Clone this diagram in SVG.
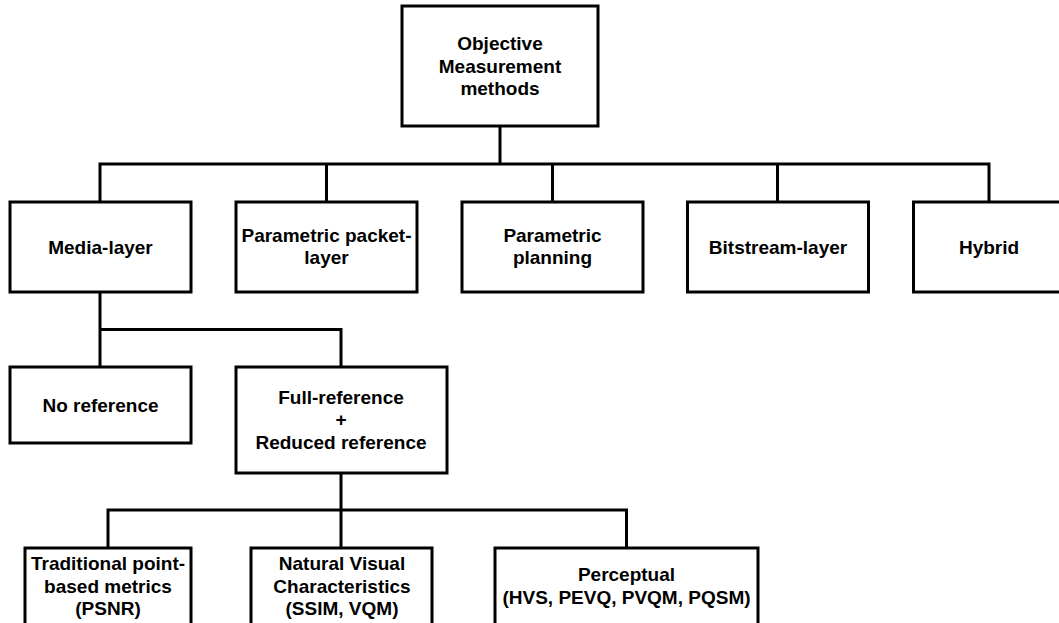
<svg xmlns="http://www.w3.org/2000/svg" width="1059" height="623" viewBox="0 0 1059 623">
<style>
.box{fill:#fff;stroke:#000;stroke-width:3}
.ln{fill:none;stroke:#000;stroke-width:3;stroke-linecap:square}
text{font-family:"Liberation Sans",Arial,sans-serif;font-weight:bold;font-size:19px;fill:#000;text-anchor:middle}
</style>
<rect width="1059" height="623" fill="#fff"/>
<g id="connectors">
<path class="ln" d="M500,126V164M100,164H989M100,164V202M326.5,164V202M552.5,164V202M777.5,164V202M989,164V202"/>
<path class="ln" d="M100,292V367M100,329.5H341V367"/>
<path class="ln" d="M341,473V548M108,510H626.5M108,510V548M626.5,510V548"/>
</g>
<g id="objective">
<rect class="box" x="402" y="6" width="196" height="120"/>
<text x="500" y="50">Objective</text>
<text x="500" y="72.5">Measurement</text>
<text x="500" y="94.5">methods</text>
</g>
<g id="media-layer">
<rect class="box" x="10" y="202" width="181" height="90"/>
<text x="100.5" y="253.5">Media-layer</text>
</g>
<g id="parametric-packet">
<rect class="box" x="236" y="202" width="181" height="90"/>
<text x="326.5" y="241.5">Parametric packet-</text>
<text x="326.5" y="264">layer</text>
</g>
<g id="parametric-planning">
<rect class="box" x="462" y="202" width="181" height="90"/>
<text x="552.5" y="241.5">Parametric</text>
<text x="552.5" y="264">planning</text>
</g>
<g id="bitstream">
<rect class="box" x="687.5" y="202" width="181" height="90"/>
<text x="778" y="253.5">Bitstream-layer</text>
</g>
<g id="hybrid">
<rect class="box" x="913.5" y="202" width="160" height="90"/>
<text x="989" y="253.5">Hybrid</text>
</g>
<g id="no-reference">
<rect class="box" x="10" y="367" width="181" height="76"/>
<text x="100.5" y="411.5">No reference</text>
</g>
<g id="full-reference">
<rect class="box" x="236" y="367" width="211" height="106"/>
<text x="341" y="404">Full-reference</text>
<text x="341" y="426">+</text>
<text x="341" y="448.5">Reduced reference</text>
</g>
<g id="traditional">
<rect class="box" x="25" y="548" width="166" height="85"/>
<text x="108" y="570">Traditional point-</text>
<text x="108" y="592.5">based metrics</text>
<text x="108" y="615">(PSNR)</text>
</g>
<g id="natural">
<rect class="box" x="251" y="548" width="181" height="85"/>
<text x="342" y="570">Natural Visual</text>
<text x="342" y="592.5">Characteristics</text>
<text x="342" y="615">(SSIM, VQM)</text>
</g>
<g id="perceptual">
<rect class="box" x="495" y="548" width="263" height="85"/>
<text x="626.5" y="581">Perceptual</text>
<text x="626.5" y="603.5">(HVS, PEVQ, PVQM, PQSM)</text>
</g>
</svg>
